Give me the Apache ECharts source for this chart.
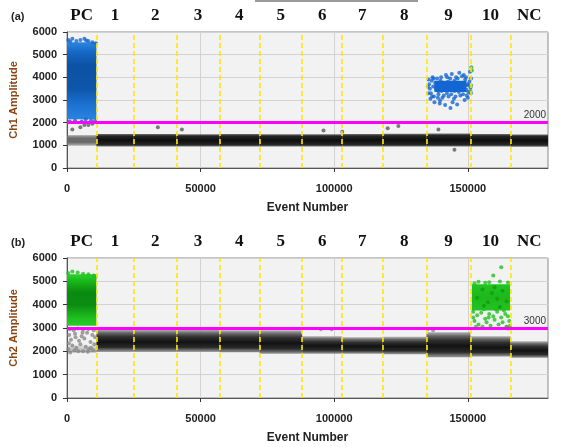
<!DOCTYPE html>
<html><head><meta charset="utf-8">
<script src="https://cdn.jsdelivr.net/npm/echarts@6/dist/echarts.min.js"></script>
<style>html,body{margin:0;padding:0;background:#fff}#c{width:561px;height:447px}</style>
</head><body><div id="c"></div>
<script>
// ---------- data ----------
const wellEdges = [0, 11000, 25000, 41000, 57000, 72000, 88000, 103000, 118000, 134500, 151000, 166000, 180000];
const wellLabels = ['PC', '1', '2', '3', '4', '5', '6', '7', '8', '9', '10', 'NC'];
const xTicks = [0, 50000, 100000, 150000];
const ch1Threshold = 2000;
const ch2Threshold = 3000;

// negative droplet band per well (low / high amplitude)
const ch1NegLow  = [1000, 950, 950, 950, 950, 950, 950, 950, 950, 950, 950, 940];
const ch1NegHigh = [1450, 1500, 1500, 1490, 1500, 1490, 1490, 1500, 1510, 1520, 1500, 1480];
const ch2NegLow  = [1950, 1980, 1980, 1980, 1960, 1900, 1900, 1900, 1880, 1750, 1780, 1720];
const ch2NegHigh = [2250, 2930, 2920, 2920, 2900, 2900, 2650, 2600, 2620, 2820, 2650, 2430];

// dense positive clusters [xStart, xEnd, low, high]
const ch1PcCluster = [[0, 11000, 2150, 5550]];
const ch1SampleCore = [[137500, 149500, 3350, 3850]];
const ch2PcCluster = [[0, 11000, 3100, 5300]];
const ch2SampleCore = [[151500, 165800, 3750, 4880]];

// individual droplets
const ch1BluePoints = [
  [500,5650],[2000,5700],[3500,5600],[5000,5650],[6500,5700],[8000,5600],[9500,5550],[10800,5500],[1200,5580],[7200,5620],
  [1000,2050],[3000,2100],[5500,2050],[7000,2150],[9000,2100],[10500,2080],
  [135500,3700],[135800,3500],[136200,3300],[136500,3850],[137000,3600],[137300,3150],[137800,3750],[138200,3450],[138500,3950],
  [139000,3250],[139300,3650],[139800,3850],[140200,3400],[140500,3100],[141000,3700],[141400,3550],[141800,4100],[142200,3300],
  [142600,3800],[143000,3600],[143400,3950],[143800,3250],[144200,3700],[144600,3450],[145000,3850],[145400,3150],[145800,3600],
  [146200,3950],[146600,3350],[147000,3750],[147400,3550],[147800,4050],[148200,3250],[148600,3700],[149000,3900],[149400,3450],
  [149800,3650],[150200,3350],[150600,3800],[151000,3550],[151200,3950],[150800,4250],[137500,2900],[139500,2850],[141500,2780],
  [143500,2650],[146000,2800],[148800,3000],[150000,3100],[136000,3050],[140000,4000],[144000,4150],[146800,4200],[148500,4100],
  [138000,3550],[142000,3650],[146000,3700],[150000,3700],[139000,3400],[145000,3400],[135300,3900],[136800,4000],[141000,3200],
  [135000,3600],[135200,3300],[136600,3150],[138800,3100],[142800,3150],[144800,3050],[147200,3200],[149600,3200],[151100,3300],
  [137200,3950],[142300,4000],[145600,4000],[149300,4000],[139600,2980],[144300,2900]
];
const ch1GreenPoints = [[151300,4450],[151500,4300],[151200,3650],[151000,3400]];
const ch1GrayPoints = [
  [2000,1700],[6500,1900],[8000,1900],[9500,1950],[5000,1800],
  [34000,1800],[43000,1700],[96000,1650],[103000,1600],[120000,1750],[124000,1850],[139000,1700],[145000,800]
];
const ch2GreenPoints = [
  [500,5350],[2000,5420],[4000,5380],[6000,5320],[8000,5300],[10000,5250],[10800,5200],
  [152000,3700],[153500,3550],[155000,3650],[156500,3400],[158000,3600],[159500,3500],[161000,3700],[162500,3450],[164000,3600],
  [165500,3300],[152500,3300],[154000,3150],[155500,3050],[157000,3250],[158500,3100],[160000,3350],[161500,3150],[163000,3250],
  [164500,3050],[165800,3100],[153000,3050],[156000,3800],[160500,3800],[163500,3750],[152000,3450],[157800,3450],[165000,3500],
  [154000,4980],[158000,4960],[162000,4990],[165000,4950],[152500,4920],[156500,4940],[159500,5250],[162500,5600]
];
const ch2DarkGreenPoints = [
  [153500,4300],[155500,4650],[157500,4100],[159000,4500],[161000,4250],[163000,4600],[164500,4150],[156000,3950],[160000,4750],[162000,3900]
];
const ch2GrayPoints = [
  [1000,2950],[2500,2900],[4000,2980],[6000,2920],[8000,2960],[10000,2900],[800,2700],[3000,2750],[5500,2650],[7500,2800],
  [9500,2700],[1500,2500],[4500,2450],[6500,2550],[8800,2400],[10500,2600],[2000,2250],[3500,2150],[5000,2300],[7000,2200],
  [9000,2150],[10200,2300],[500,2100],[2800,2050],[6000,2000],[8200,2100],[1200,1950],[4200,2000],[7800,1980],[9800,2050],
  [700,2350],[3200,2600],[5800,2800],
  [95000,2950],[99000,2950],[135000,2950],[137000,2900],[164500,3050],[165000,2980]
];

// ---------- chart ----------
const F = 'Liberation Sans';
const wellCenters = wellLabels.map((_, i) => (wellEdges[i] + wellEdges[i + 1]) / 2);

function bandRows(low, high, from, to) {
  const rows = [];
  for (let i = from; i < to; i++) rows.push([wellEdges[i], wellEdges[i + 1], low[i], high[i]]);
  return rows;
}
function rectItem(stops) {
  return function (params, api) {
    const a = api.coord([api.value(0), api.value(3)]);
    const b = api.coord([api.value(1), api.value(2)]);
    return {
      type: 'rect',
      shape: { x: a[0], y: a[1], width: b[0] - a[0], height: b[1] - a[1] },
      style: { fill: new echarts.graphic.LinearGradient(0, 0, 0, 1, stops) }
    };
  };
}
function stopsOf(arr) { return arr.map(s => ({ offset: s[0], color: s[1] })); }

function custom(g, data, stops, z) {
  return { type: 'custom', xAxisIndex: 2 * g, yAxisIndex: g, data: data, renderItem: rectItem(stopsOf(stops)),
    encode: { x: [0, 1], y: [2, 3] }, clip: true, silent: true, z: z };
}
function scatter(g, data, color, z) {
  return { type: 'scatter', xAxisIndex: 2 * g, yAxisIndex: g, data: data, symbolSize: 4,
    itemStyle: { color: color }, silent: true, z: z };
}
function bottomX(g) {
  return { type: 'value', gridIndex: g, position: 'bottom', min: 0, max: 180000, interval: 50000,
    name: 'Event Number', nameLocation: 'middle', nameGap: 34,
    nameTextStyle: { fontFamily: F, fontWeight: 'bold', fontSize: 12, color: '#222' },
    axisLine: { show: true, onZero: false, lineStyle: { color: '#555' } },
    axisTick: { show: true, length: 4, customValues: xTicks, lineStyle: { color: '#333' } },
    axisLabel: { customValues: xTicks, formatter: v => String(v), fontFamily: F, fontWeight: 'bold', fontSize: 11, color: '#222', margin: 15 },
    splitLine: { show: true, lineStyle: { color: '#d2d2d2' } } };
}
function topX(g) {
  return { type: 'value', gridIndex: g, position: 'top', min: 0, max: 180000,
    axisLine: { show: false }, axisTick: { show: false }, splitLine: { show: false },
    axisLabel: { customValues: wellCenters,
      formatter: v => { let best = 0; wellCenters.forEach((c, i) => { if (Math.abs(c - v) < Math.abs(wellCenters[best] - v)) best = i; }); return wellLabels[best]; },
      fontFamily: 'Liberation Serif', fontWeight: 'bold', fontSize: 17, color: '#111', margin: 8 } };
}
function yAx(g, name) {
  return { type: 'value', gridIndex: g, min: 0, max: 6000, interval: 1000,
    name: name, nameLocation: 'middle', nameGap: 48,
    nameTextStyle: { fontFamily: F, fontWeight: 'bold', fontSize: 11, color: '#8b4513' },
    axisLine: { show: true, lineStyle: { color: '#555' } },
    axisTick: { show: true, length: 4, lineStyle: { color: '#333' } },
    axisLabel: { formatter: v => String(v), fontFamily: F, fontWeight: 'bold', fontSize: 11, color: '#222', margin: 10 },
    splitLine: { show: true, lineStyle: { color: '#d2d2d2' } } };
}
function wellLines(g) {
  return { type: 'scatter', xAxisIndex: 2 * g, yAxisIndex: g, data: [], z: 6, silent: true,
    markLine: { silent: true, symbol: ['none', 'none'], animation: false,
      lineStyle: { color: '#ffe600', type: [5, 3], width: 1.6 }, label: { show: false },
      emphasis: { disabled: true },
      data: wellEdges.slice(1, -1).map(v => ({ xAxis: v })) } };
}
function threshold(g, t) {
  return { type: 'scatter', xAxisIndex: 2 * g, yAxisIndex: g, data: [], z: 8, silent: true,
    markLine: { silent: true, symbol: ['none', 'none'], animation: false,
      lineStyle: { color: '#ff00ff', type: 'solid', width: 3 }, emphasis: { disabled: true },
      label: { show: true, position: 'insideEndTop', formatter: String(t), fontFamily: F, fontSize: 10, color: '#333', distance: 2 },
      data: [{ yAxis: t }] } };
}

const blackBand = [[0, 'rgba(70,70,70,0.75)'], [0.15, '#262626'], [0.5, '#0e0e0e'], [0.85, '#262626'], [1, 'rgba(70,70,70,0.75)']];
const grayBand2 = [[0, 'rgba(140,140,140,0.65)'], [0.15, '#666'], [0.32, '#303030'], [0.55, '#121212'], [0.8, '#2a2a2a'], [1, 'rgba(100,100,100,0.65)']];

const option = {
  animation: false,
  backgroundColor: '#fff',
  title: [
    { text: '(a)', left: 6, top: 6, textStyle: { fontFamily: F, fontWeight: 'bold', fontSize: 11, color: '#222' } },
    { text: '(b)', left: 6, top: 232, textStyle: { fontFamily: F, fontWeight: 'bold', fontSize: 11, color: '#222' } }
  ],
  graphic: [{ type: 'line', shape: { x1: 255, y1: 1, x2: 418, y2: 1 }, style: { stroke: '#9a9a9a', lineWidth: 2 } }],
  grid: [
    { left: 67, right: 13, top: 32, height: 136, show: true, backgroundColor: '#f2f2f2', borderColor: '#8a8a8a', borderWidth: 1 },
    { left: 67, right: 13, top: 258, height: 140, show: true, backgroundColor: '#f2f2f2', borderColor: '#8a8a8a', borderWidth: 1 }
  ],
  xAxis: [bottomX(0), topX(0), bottomX(1), topX(1)],
  yAxis: [yAx(0, 'Ch1 Amplitude'), yAx(1, 'Ch2 Amplitude')],
  series: [
    // panel (a)
    custom(0, bandRows(ch1NegLow, ch1NegHigh, 0, 1), [[0, 'rgba(120,120,120,0.6)'], [0.3, '#6a6a6a'], [0.7, '#6a6a6a'], [1, 'rgba(120,120,120,0.6)']], 2),
    custom(0, bandRows(ch1NegLow, ch1NegHigh, 1, wellLabels.length), blackBand, 2),
    custom(0, ch1PcCluster, [[0, '#2d86e2'], [0.12, '#1669c8'], [0.3, '#0c52a4'], [0.6, '#0d56aa'], [0.8, '#1b70d0'], [1, '#2a84e0']], 3),
    custom(0, ch1SampleCore, [[0, '#1466d2'], [1, '#1466d2']], 3),
    scatter(0, ch1GrayPoints, '#5a5a5a', 4),
    scatter(0, ch1BluePoints, '#1466d2', 4),
    scatter(0, ch1GreenPoints, '#3aa845', 4),
    wellLines(0),
    threshold(0, ch1Threshold),
    // panel (b)
    custom(1, bandRows(ch2NegLow, ch2NegHigh, 0, 1), [[0, 'rgba(120,120,120,0.15)'], [0.6, 'rgba(90,90,90,0.35)'], [1, 'rgba(90,90,90,0.5)']], 2),
    custom(1, bandRows(ch2NegLow, ch2NegHigh, 1, wellLabels.length), grayBand2, 2),
    custom(1, ch2PcCluster, [[0, '#2bd02b'], [0.15, '#18b418'], [0.35, '#0a8a10'], [0.6, '#0b8d12'], [0.85, '#1fbf1f'], [1, '#28cc28']], 3),
    custom(1, ch2SampleCore, [[0, '#22c422'], [0.5, '#1cb81c'], [1, '#22c422']], 3),
    scatter(1, ch2GrayPoints, '#8a8a8a', 4),
    scatter(1, ch2GreenPoints, '#1ec21e', 4),
    scatter(1, ch2DarkGreenPoints, '#129a12', 4),
    wellLines(1),
    threshold(1, ch2Threshold)
  ]
};
const chart = echarts.init(document.getElementById('c'), null, { renderer: 'canvas' });
chart.setOption(option);
</script>
</body></html>
